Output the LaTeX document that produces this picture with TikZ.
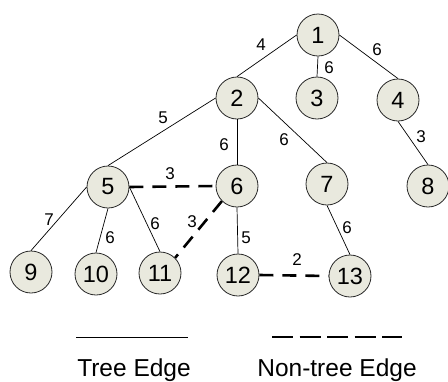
\documentclass[tikz,border=0pt]{standalone}
\usepackage{fontspec}
\setmainfont{Liberation Sans}
\definecolor{nodefill}{RGB}{233,233,222}
\definecolor{nodeline}{RGB}{40,40,40}
\begin{document}
\begin{tikzpicture}[x=1pt,y=-1pt,
  vertex/.style={circle,draw=nodeline,line width=0.8pt,fill=nodefill,minimum size=42pt,inner sep=0pt,font=\fontsize{23.5}{27}\selectfont},
  treeedge/.style={draw=black,line width=0.7pt},
  nontree/.style={draw=black,line width=2.6pt,dash pattern=on 14pt off 9pt},
  wt/.style={font=\fontsize{17}{20}\selectfont,inner sep=0pt},
  legendtext/.style={font=\fontsize{24.5}{28}\selectfont,anchor=base,inner sep=0pt}]
\useasboundingbox (0,0) rectangle (448,381);

% vertices
\node[vertex] (n1)  at (318,35)  {1};
\node[vertex] (n2)  at (237,98)  {2};
\node[vertex] (n3)  at (317,98)  {3};
\node[vertex] (n4)  at (398,100) {4};
\node[vertex] (n5)  at (108,187) {5};
\node[vertex] (n6)  at (237,186) {6};
\node[vertex] (n7)  at (327,184) {7};
\node[vertex] (n8)  at (428,186) {8};
\node[vertex] (n9)  at (31,272)  {9};
\node[vertex] (n10) at (96,274)  {10};
\node[vertex] (n11) at (160,273) {11};
\node[vertex] (n12) at (238,275) {12};
\node[vertex] (n13) at (350,276) {13};

% tree edges (glued to the side points of the circles)
\path[treeedge] (n1.west)  -- (n2.north);
\path[treeedge] (n1.south) -- (n3.north);
\path[treeedge] (n1.east)  -- (n4.north);
\path[treeedge] (n2.west)  -- (n5.north);
\path[treeedge] (n2.south) -- (n6.north);
\path[treeedge] (n2.east)  -- (n7.north);
\path[treeedge] (n4.south) -- (n8.north);
\path[treeedge] (n5.west)  -- (n9.north);
\path[treeedge] (n5.south) -- (n10.north);
\path[treeedge] (n5.east)  -- (n11.north);
\path[treeedge] (n6.south) -- (n12.north);
\path[treeedge] (n7.south) -- (n13.north);

% non-tree edges
\path[nontree] (n5.east) -- (n6.west);
\path[nontree] (n6.south west) -- (n11.north east);
\path[nontree] (n12.east) -- (n13.west);

% edge weights
\node[wt] (w12)  at (261,45)  {4};
\node[wt] (w13)  at (329,68)  {6};
\node[wt] (w14)  at (377,50)  {6};
\node[wt] (w25)  at (163,118) {5};
\node[wt] (w26)  at (224,145) {6};
\node[wt] (w27)  at (284,140) {6};
\node[wt] (w48)  at (421,137) {3};
\node[wt] (w56)  at (170,174) {3};
\node[wt] (w59)  at (49,220)  {7};
\node[wt] (w510) at (110,238) {6};
\node[wt] (w511) at (155,224) {6};
\node[wt] (w611) at (192,222) {3};
\node[wt] (w612) at (246,238) {5};
\node[wt] (w713) at (347,228) {6};
\node[wt] (w1213) at (297,260) {2};

% legend
\coordinate (ta) at (76,337);
\coordinate (tb) at (188,337);
\coordinate (na) at (272,337);
\coordinate (nb) at (402,337);
\path[treeedge] (ta) -- (tb);
\path[nontree,dash pattern=on 21pt off 6.5pt] (na) -- (nb);
\node[legendtext] (lt) at (134,376) {Tree Edge};
\node[legendtext] (ln) at (337,376) {Non-tree Edge};
\end{tikzpicture}
\end{document}
